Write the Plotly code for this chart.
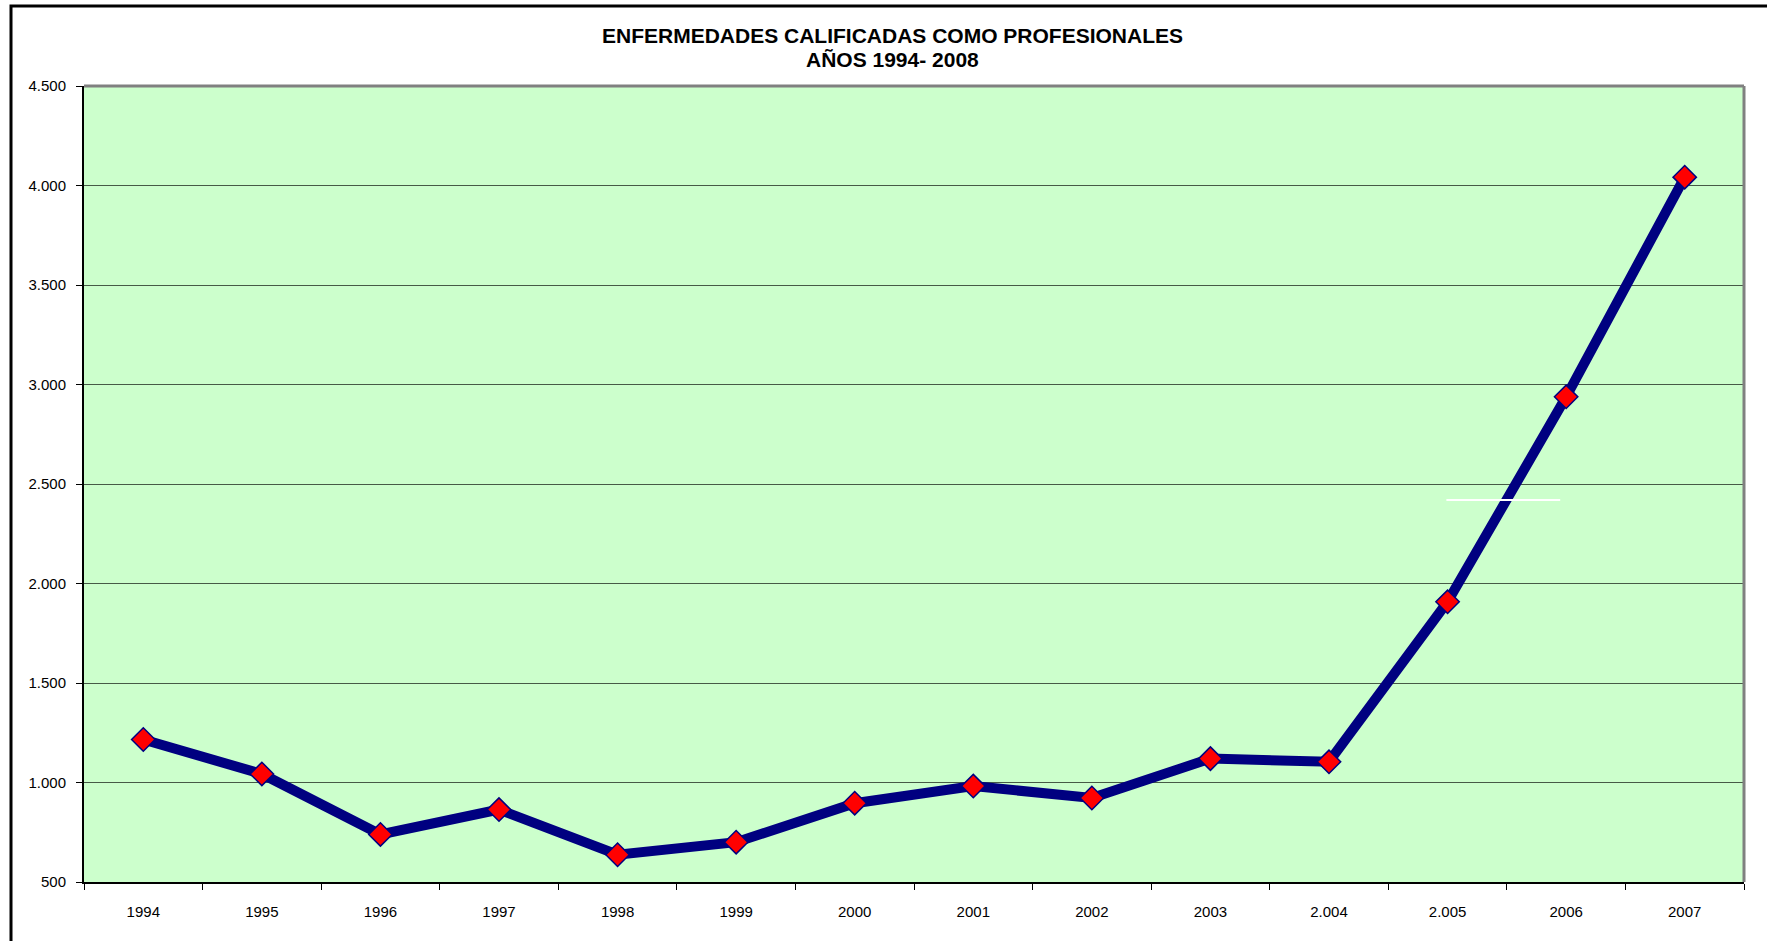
import plotly.graph_objects as go

years = ["1994", "1995", "1996", "1997", "1998", "1999", "2000", "2001",
         "2002", "2003", "2.004", "2.005", "2006", "2007"]
cases = [1216, 1043, 739, 864, 637, 700, 896, 982, 922, 1120, 1104, 1908, 2938, 4042]
title_line1 = "ENFERMEDADES CALIFICADAS COMO PROFESIONALES"
title_line2 = "AÑOS 1994- 2008"
y_ticks = [500, 1000, 1500, 2000, 2500, 3000, 3500, 4000, 4500]

# stray white stroke visible in the original chart (category index range, value)
stroke_x = [10.99, 11.95]
stroke_y = 2420

W, H = 1767, 941
L, R, T, B = 84, 23, 86, 59
pw = W - L - R
ph = H - T - B

fig = go.Figure()
fig.add_trace(go.Scatter(
    x=years, y=cases, mode="lines+markers",
    line=dict(color="#000080", width=10),
    marker=dict(symbol="diamond", size=18, color="#FF0000",
                line=dict(color="#000080", width=1.5)),
    showlegend=False, hoverinfo="x+y"))

fig.update_layout(
    width=W, height=H,
    margin=dict(l=L, r=R, t=T, b=B),
    paper_bgcolor="white",
    plot_bgcolor="#CCFFCC",
    separators=",.",
    font=dict(family="Liberation Sans, Arial, sans-serif", size=15, color="black"),
    xaxis=dict(type="category", showgrid=False, showline=True, linecolor="black",
               linewidth=2, ticks="outside", tickson="boundaries", ticklen=6,
               tickcolor="black", ticklabelstandoff=15,
               range=[-0.5, len(years) - 0.5], zeroline=False),
    yaxis=dict(range=[500, 4500], tickvals=y_ticks, tickformat=",d",
               showgrid=True, gridcolor="#465a46", gridwidth=1,
               showline=True, linecolor="black", linewidth=2,
               ticks="outside", ticklen=6, tickcolor="black",
               ticklabelstandoff=7, zeroline=False),
)

# two-line bold title
for txt, yc in [(title_line1, 35), (title_line2, 60)]:
    fig.add_annotation(text="<b>" + txt + "</b>", xref="paper", yref="paper",
                       x=(892 - L) / pw, y=(H - B - yc) / ph,
                       xanchor="center", yanchor="middle", showarrow=False,
                       font=dict(size=21, color="black"))

# plot-area frame (gray top and right edges)
fig.add_shape(type="line", xref="paper", yref="paper", x0=0, x1=1, y0=1, y1=1,
              line=dict(color="#808080", width=3))
fig.add_shape(type="line", xref="paper", yref="paper", x0=1, x1=1, y0=0, y1=1,
              line=dict(color="#808080", width=3))

# white stroke
fig.add_shape(type="line", xref="x", yref="y", x0=stroke_x[0], x1=stroke_x[1],
              y0=stroke_y, y1=stroke_y, line=dict(color="white", width=2))

# outer chart border (extends beyond right/bottom of the window)
fig.add_shape(type="rect", xref="paper", yref="paper",
              x0=(11 - L) / pw, x1=(W + 20 - L) / pw,
              y0=-(B + 20) / ph, y1=(H - B - 6) / ph,
              line=dict(color="black", width=3), fillcolor="rgba(0,0,0,0)")

fig.write_html("out.html",
               config={"displayModeBar": False},
               post_script="document.body.style.margin='0';document.body.style.overflow='hidden';")
